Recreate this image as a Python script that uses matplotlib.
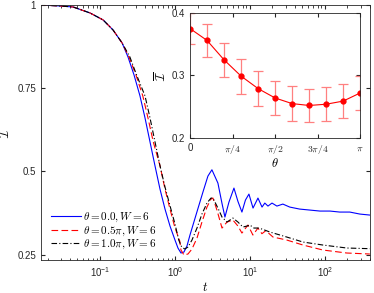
import numpy as np
import matplotlib.pyplot as plt

plt.rcParams['font.family'] = ['Liberation Sans', 'DejaVu Sans']
plt.rcParams['mathtext.fontset'] = 'cm'

# main curves
t_blue = [0.0159, 0.0293, 0.0437, 0.0736, 0.110, 0.149, 0.197, 0.236, 0.284, 0.341,
          0.398, 0.464, 0.541, 0.631, 0.736, 0.858, 1.0, 1.096, 1.202, 1.318, 1.445,
          1.585, 1.96, 2.36, 2.75, 3.11, 3.74, 4.23, 4.64, 5.25, 6.12, 6.92, 7.82,
          8.71, 9.7, 11.0, 12.8, 14.5, 15.8, 17.4, 19.7, 22.9, 27.5, 34, 46, 63, 86,
          117, 158, 215, 293, 398]
i_blue = [1.000, 0.997, 0.994, 0.976, 0.955, 0.925, 0.886, 0.844, 0.790, 0.727,
          0.661, 0.589, 0.517, 0.447, 0.387, 0.336, 0.294, 0.270, 0.255, 0.258, 0.276,
          0.309, 0.378, 0.438, 0.486, 0.505, 0.465, 0.405, 0.363, 0.408, 0.450, 0.410, 0.378,
          0.414, 0.432, 0.390, 0.420, 0.393, 0.405, 0.396, 0.405, 0.396, 0.402, 0.393, 0.387,
          0.384, 0.381, 0.381, 0.378, 0.378, 0.372, 0.369]

t_red = [0.0159, 0.0293, 0.0437, 0.0736, 0.110, 0.149, 0.197, 0.243, 0.301, 0.372,
         0.436, 0.513, 0.631, 0.736, 0.858, 0.993, 1.158, 1.202, 1.318, 1.49, 1.686,
         1.966, 2.29, 2.67, 3.02, 3.21, 3.63, 4.24, 4.94, 5.93, 6.92, 7.82, 9.4,
         10.96, 12.8, 14.45, 16.3, 20.3, 31, 51, 94, 196, 398]
i_red = [1.000, 0.997, 0.994, 0.976, 0.955, 0.925, 0.886, 0.844, 0.790, 0.727,
         0.661, 0.589, 0.517, 0.447, 0.387, 0.333, 0.291, 0.264, 0.249, 0.252, 0.267,
         0.300, 0.348, 0.393, 0.417, 0.420, 0.384, 0.330, 0.348, 0.354, 0.336, 0.315, 0.339,
         0.309, 0.330, 0.313, 0.322, 0.303, 0.294, 0.279, 0.264, 0.255, 0.252]

t_black = [0.0159, 0.0293, 0.0437, 0.0736, 0.110, 0.149, 0.197, 0.250, 0.307, 0.398,
           0.464, 0.541, 0.631, 0.736, 0.858, 1.0, 1.122, 1.230, 1.349, 1.49, 1.686,
           1.966, 2.29, 2.67, 3.02, 3.21, 3.74, 4.24, 4.94, 5.41, 5.93, 6.92, 8.07,
           9.12, 10, 11.3, 12.8, 14.45, 18.5, 31, 51, 94, 196, 398]
i_black = [1.000, 0.997, 0.994, 0.976, 0.955, 0.925, 0.886, 0.844, 0.790, 0.727,
           0.661, 0.589, 0.517, 0.453, 0.397, 0.342, 0.294, 0.273, 0.267, 0.273, 0.294,
           0.330, 0.372, 0.405, 0.420, 0.420, 0.390, 0.363, 0.348, 0.354, 0.360, 0.348, 0.333,
           0.336, 0.339, 0.330, 0.330, 0.327, 0.318, 0.303, 0.288, 0.279, 0.270, 0.268]

legend_labels = [r'$\theta = 0.0, W = 6$', r'$\theta = 0.5\pi, W = 6$', r'$\theta = 1.0\pi, W = 6$']

# inset: time-averaged value against theta
theta_frac = [0.0, 0.1, 0.2, 0.3, 0.4, 0.5, 0.6, 0.7, 0.8, 0.9, 1.0]
i_mean = [0.375, 0.356, 0.325, 0.299, 0.279, 0.264, 0.255, 0.252, 0.254, 0.259, 0.272]
i_err = [0.025, 0.027, 0.027, 0.028, 0.028, 0.027, 0.028, 0.027, 0.027, 0.027, 0.027]

grey = '#262626'

fig = plt.figure(figsize=(3.74, 2.93), dpi=100)
ax = fig.add_axes([0.1096, 0.1126, 0.8797, 0.8704])
ax.plot(t_blue, i_blue, color='b', lw=0.8, label=legend_labels[0])
ax.plot(t_red, i_red, color='r', lw=0.8, ls=(0, (6, 3)), label=legend_labels[1])
ax.plot(t_black, i_black, color='k', lw=0.8, ls=(0, (5, 2, 1, 2)), label=legend_labels[2])
ax.set_xscale('log')
ax.set_xlim(0.0163, 400)
ax.set_ylim(0.234, 1.0)
ax.set_yticks([0.25, 0.5, 0.75, 1])
ax.set_yticklabels(['0.25', '0.5', '0.75', '1'])
ax.set_xticks([0.1, 1, 10, 100])
ax.set_xlabel(r'$t$', fontsize=9, labelpad=2)
ax.set_ylabel(r'$\mathcal{I}$', fontsize=9, labelpad=4)
ax.tick_params(which='both', direction='in', top=True, right=True, labelsize=7,
               colors=grey, length=3)
ax.tick_params(which='minor', length=1.8)
for s in ax.spines.values():
    s.set_color(grey)
    s.set_linewidth(0.6)
ax.legend(loc='lower left', bbox_to_anchor=(0.03, 0.035), frameon=False, fontsize=8,
          handlelength=2.7, handletextpad=0.2, labelspacing=0.0, borderaxespad=0,
          borderpad=0)

ins = fig.add_axes([0.508, 0.529, 0.455, 0.427])
theta = np.array(theta_frac) * np.pi
ins.errorbar(theta, i_mean, yerr=i_err, color='r', lw=0.8, marker='o', markersize=3.5,
             ecolor='#ff8080', elinewidth=0.9, capsize=3.5, capthick=0.9)
ins.set_xlim(0, np.pi)
ins.set_ylim(0.2, 0.4)
ins.set_xticks([0, np.pi / 4, np.pi / 2, 3 * np.pi / 4, np.pi])
ins.set_xticklabels(['0', r'$\pi/4$', r'$\pi/2$', r'$3\pi/4$', r'$\pi$'])
ins.set_yticks([0.2, 0.3, 0.4])
ins.set_xlabel(r'$\theta$', fontsize=9, labelpad=1)
ins.set_ylabel(r'$\overline{\mathcal{I}}$', fontsize=9, labelpad=2)
ins.tick_params(direction='in', top=True, right=True, labelsize=7, colors=grey, length=3)
for s in ins.spines.values():
    s.set_color(grey)
    s.set_linewidth(0.6)

fig.savefig('out.png', dpi=100)
